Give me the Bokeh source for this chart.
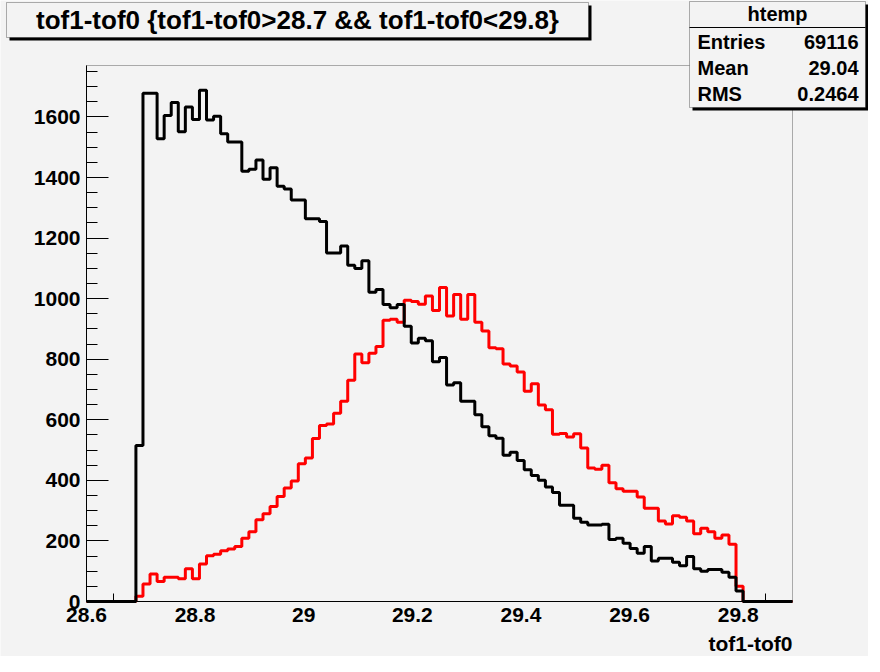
import numpy as np
from bokeh.plotting import figure
from bokeh.models import (Range1d, SingleIntervalTicker, FixedTicker, CustomJSTickFormatter,
                          Label, BoxAnnotation)
from bokeh.embed import file_html
from bokeh.resources import INLINE

# ---------------- data ----------------
x_lo, x_hi, n_bins = 28.6, 29.9, 100
y_max = 1770

black_counts = [0] * 7 + [
    515, 1678, 1678, 1528, 1605, 1648, 1551, 1633, 1592, 1688,
    1590, 1602, 1545, 1517, 1517, 1421, 1427, 1458, 1394, 1432,
    1371, 1362, 1326, 1326, 1264, 1264, 1255, 1151, 1151, 1174,
    1110, 1100, 1125, 1021, 1030, 981, 970, 981, 909, 854,
    869, 861, 792, 806, 715, 722, 661, 661, 617, 577,
    547, 539, 483, 493, 466, 435, 416, 400, 378, 360,
    318, 318, 275, 262, 253, 253, 255, 205, 209, 192,
    175, 159, 182, 134, 143, 143, 130, 118, 149, 108,
    100, 106, 106, 97, 80, 35] + [0] * 7

red_counts = [0] * 7 + [
    17, 58, 91, 66, 80, 80, 75, 108, 75, 124,
    151, 156, 168, 173, 182, 209, 230, 270, 290, 314,
    347, 375, 398, 455, 474, 538, 581, 586, 622, 661,
    731, 817, 788, 820, 842, 929, 932, 922, 995, 991,
    982, 1009, 961, 1037, 943, 1014, 932, 1014, 922, 893,
    838, 835, 784, 778, 758, 694, 719, 649, 633, 552,
    555, 543, 554, 507, 441, 437, 450, 392, 372, 364,
    364, 345, 308, 308, 266, 256, 283, 278, 266, 224,
    242, 230, 209, 220, 189, 50] + [0] * 7

x_major = [28.6, 28.8, 29.0, 29.2, 29.4, 29.6, 29.8]
x_minor = [28.65, 29.85]

title_text = "tof1-tof0 {tof1-tof0>28.7 && tof1-tof0<29.8}"
x_label = "tof1-tof0"
stats_name = "htemp"
stats_rows = [("Entries", "69116"), ("Mean", "29.04"), ("RMS", "0.2464")]

# ---------------- layout (pixels) ----------------
W, H = 868, 656
fr_left, fr_right = 86, 792      # histogram frame inside the canvas
fr_bottom, fr_top = 55, 591      # measured from the canvas bottom

BG = "#f3f3f3"
FONT = "Liberation Sans"

# ranges so that the histogram frame lands at the pixel box above
px_x = (fr_right - fr_left) / (x_hi - x_lo)
px_y = (fr_top - fr_bottom) / y_max
xr = Range1d(x_lo - fr_left / px_x, x_hi + (W - fr_right) / px_x)
yr = Range1d(-fr_bottom / px_y, y_max + (H - fr_top) / px_y)

p = figure(width=W, height=H, output_backend="svg", toolbar_location=None,
           x_range=xr, y_range=yr,
           min_border_left=0, min_border_right=0, min_border_top=0, min_border_bottom=0)
p.background_fill_color = BG
p.border_fill_color = BG
p.outline_line_color = None
p.xgrid.visible = False
p.ygrid.visible = False

def sbox(l, r, t, b, **kw):
    return BoxAnnotation(left=l, right=r, top=t, bottom=b,
                         left_units="screen", right_units="screen",
                         top_units="screen", bottom_units="screen", **kw)

# frame
p.add_layout(sbox(fr_left, fr_right, fr_top, fr_bottom, fill_alpha=0,
                  line_color="black", line_width=1))

edges = np.linspace(x_lo, x_hi, n_bins + 1)
p.step(x=list(edges), y=red_counts + [red_counts[-1]], mode="after",
       line_color="#ff0000", line_width=3)
p.step(x=list(edges), y=black_counts + [black_counts[-1]], mode="after",
       line_color="black", line_width=3)

# y axis
ya = p.yaxis[0]
ya.fixed_location = x_lo
ya.bounds = (0, y_max)
ya.ticker = SingleIntervalTicker(interval=200, num_minor_ticks=4)
ya.major_tick_in = 22
ya.major_tick_out = 0
ya.minor_tick_in = 11
ya.minor_tick_out = 0
ya.major_tick_line_color = "black"
ya.minor_tick_line_color = "black"
ya.axis_line_color = "black"
ya.major_label_text_font = FONT
ya.major_label_text_font_style = "bold"
ya.major_label_text_font_size = "21px"
ya.major_label_text_color = "black"
ya.major_label_standoff = 6

# x axis
xa = p.xaxis[0]
xa.fixed_location = 0
xa.bounds = (x_lo, x_hi)
xa.ticker = FixedTicker(ticks=x_major, minor_ticks=x_minor)
xa.major_tick_in = 0
xa.major_tick_out = 0
xa.minor_tick_in = 8
xa.minor_tick_out = 0
xa.minor_tick_line_color = "black"
xa.axis_line_color = "black"
xa.formatter = CustomJSTickFormatter(code="return Number(tick.toFixed(2)).toString();")
xa.major_label_text_font = FONT
xa.major_label_text_font_style = "bold"
xa.major_label_text_font_size = "21px"
xa.major_label_text_color = "black"
xa.major_label_standoff = 6

# x axis title (right aligned under the axis)
p.add_layout(Label(x=fr_right, y=13, x_units="screen", y_units="screen", text=x_label,
                   text_align="right", text_baseline="middle", text_font=FONT,
                   text_font_style="bold", text_font_size="21px", text_color="black"))

# title box with shadow
p.add_layout(sbox(9, 591, 651, 616, fill_color="black", fill_alpha=1, line_color=None))
p.add_layout(sbox(6, 588, 654, 619, fill_color=BG, fill_alpha=1,
                  line_color="black", line_width=1))
p.add_layout(Label(x=297, y=636.5, x_units="screen", y_units="screen", text=title_text,
                   text_align="center", text_baseline="middle", text_font=FONT,
                   text_font_style="bold", text_font_size="26px", text_color="black"))

# stats box with shadow
p.add_layout(sbox(692, 868, 652, 546, fill_color="black", fill_alpha=1, line_color=None))
p.add_layout(sbox(689, 865, 655, 549, fill_color=BG, fill_alpha=1,
                  line_color="black", line_width=1))
p.add_layout(sbox(689, 865, 629.5, 628.5, fill_color="black", fill_alpha=1, line_color=None))
p.add_layout(Label(x=777, y=643, x_units="screen", y_units="screen", text=stats_name,
                   text_align="center", text_baseline="middle", text_font=FONT,
                   text_font_style="bold", text_font_size="20px", text_color="black"))
for i, (name, val) in enumerate(stats_rows):
    sy = 615 - 26 * i
    p.add_layout(Label(x=697, y=sy, x_units="screen", y_units="screen", text=name,
                       text_align="left", text_baseline="middle", text_font=FONT,
                       text_font_style="bold", text_font_size="20px", text_color="black"))
    p.add_layout(Label(x=858, y=sy, x_units="screen", y_units="screen", text=val,
                       text_align="right", text_baseline="middle", text_font=FONT,
                       text_font_style="bold", text_font_size="20px", text_color="black"))

open("out.html", "w").write(file_html(p, INLINE))
